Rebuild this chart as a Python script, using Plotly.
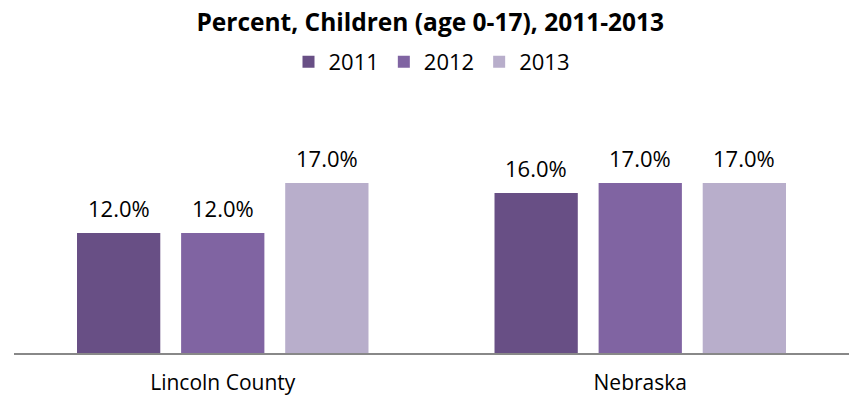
import plotly.graph_objects as go

categories = ["Lincoln County", "Nebraska"]
years = ["2011", "2012", "2013"]
values_2011 = [12.0, 16.0]
values_2012 = [12.0, 17.0]
values_2013 = [17.0, 17.0]
series = [values_2011, values_2012, values_2013]
colors = ["#684F85", "#8064A2", "#B8AECB"]

FONT = "Open Sans, Noto Sans, sans-serif"
BAR_PITCH_PX = 104  # horizontal distance between neighbouring bars in a group

fig = go.Figure()
for year, vals, col in zip(years, series, colors):
    fig.add_trace(go.Bar(
        name=year,
        x=categories,
        y=vals,
        marker=dict(color=col, line=dict(width=0)),
        cliponaxis=False,
    ))

# value labels above each bar
for i, vals in enumerate(series):
    for cat, v in zip(categories, vals):
        fig.add_annotation(
            x=cat, y=v, xref="x", yref="y",
            text=f"{v:.1f}%",
            showarrow=False,
            xanchor="center", yanchor="bottom",
            xshift=(i - 1) * BAR_PITCH_PX, yshift=8,
            font=dict(size=22, color="#000000", family=FONT),
        )

fig.update_layout(
    width=852,
    height=401,
    margin=dict(l=14, r=3, t=153, b=48),
    paper_bgcolor="white",
    plot_bgcolor="white",
    barmode="group",
    bargap=0.252,
    bargroupgap=0.2,
    title=dict(
        text="<b>Percent, Children (age 0-17), 2011-2013</b>",
        x=0.505, xanchor="center",
        y=0.945, yanchor="middle",
        font=dict(size=24.5, color="#000000", family=FONT),
    ),
    legend=dict(
        orientation="h",
        x=0.5, xanchor="center",
        y=1.455, yanchor="middle",
        font=dict(size=22, color="#000000", family=FONT),
        traceorder="normal",
    ),
    showlegend=True,
)

fig.update_xaxes(
    showline=True, linecolor="#888888", linewidth=2,
    ticks="", showgrid=False,
    ticklabelstandoff=10,
    tickfont=dict(size=21, color="#000000", family=FONT),
)
fig.update_yaxes(
    range=[0, 20], visible=False, showgrid=False, zeroline=False,
)

fig.write_html("out.html")
